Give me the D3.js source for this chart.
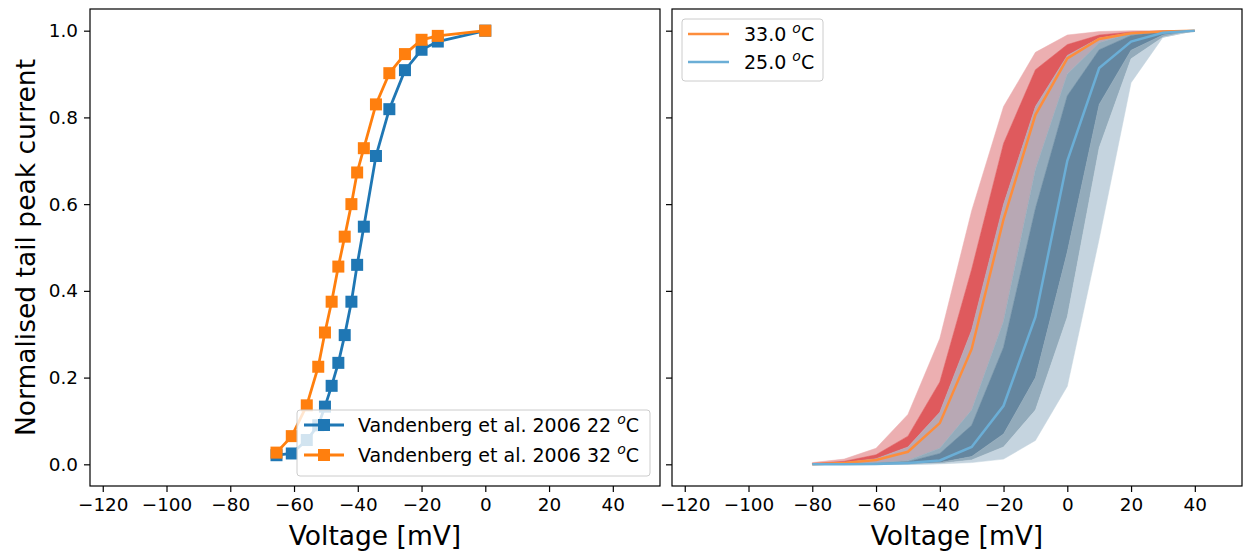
<!DOCTYPE html>
<html><head><meta charset="utf-8">
<script src="https://cdn.jsdelivr.net/npm/d3@7"></script>
<style>body{margin:0;background:#fff} svg{display:block} text{font-family:"DejaVu Sans",sans-serif}</style>
</head><body>
<svg id="c" width="1244" height="554"></svg>
<script>
// ---------- data ----------
const xTicks = [-120, -100, -80, -60, -40, -20, 0, 20, 40];
const yTicks = [0, 0.2, 0.4, 0.6, 0.8, 1.0];

// Left panel: Vandenberg et al. 2006
const vdbVoltage = [-65.5, -60.7, -56, -52.4, -50.3, -48.2, -46.1, -44.1, -42, -40.2, -38.1, -34.3, -30.1, -25.2, -20, -14.9, 0];
const vdb22 = [0.021, 0.025, 0.056, 0.09, 0.133, 0.181, 0.234, 0.298, 0.375, 0.460, 0.548, 0.711, 0.819, 0.909, 0.956, 0.975, 1.0];
const vdb32 = [0.027, 0.065, 0.136, 0.225, 0.304, 0.375, 0.456, 0.525, 0.600, 0.673, 0.729, 0.830, 0.902, 0.946, 0.979, 0.988, 1.0];
const vdbLabels = ["Vandenberg et al. 2006 22 ", "Vandenberg et al. 2006 32 "];

// Right panel: model predictions
const modelVoltage = [-80, -70, -60, -50, -40, -30, -20, -10, 0, 10, 20, 30, 40];
const mean33 = [0, 0.003, 0.01, 0.029, 0.095, 0.266, 0.565, 0.806, 0.936, 0.981, 0.994, 0.998, 1.0];
const mean25 = [0, 0, 0.001, 0.003, 0.009, 0.04, 0.135, 0.34, 0.70, 0.914, 0.975, 0.995, 1.0];
// band boundaries (left to right)
const b33OuterHi = [0.004, 0.012, 0.037, 0.115, 0.29, 0.585, 0.825, 0.95, 0.99, 0.998, 1, 1, 1];
const b33InnerHi = [0.002, 0.007, 0.022, 0.065, 0.19, 0.45, 0.74, 0.91, 0.968, 0.99, 0.997, 0.999, 1];
const b33InnerLo = [0.001, 0.004, 0.013, 0.04, 0.12, 0.31, 0.60, 0.825, 0.943, 0.983, 0.995, 0.998, 1];
const b25OuterHi = [0, 0.001, 0.003, 0.009, 0.037, 0.125, 0.33, 0.68, 0.90, 0.972, 0.994, 0.999, 1];
const b25InnerHi = [0, 0.001, 0.002, 0.006, 0.025, 0.09, 0.27, 0.59, 0.85, 0.956, 0.989, 0.998, 1];
const b25InnerLo = [0, 0, 0, 0.001, 0.004, 0.018, 0.07, 0.2, 0.49, 0.83, 0.955, 0.99, 1];
const b25MidLo = [0, 0, 0, 0, 0.002, 0.01, 0.04, 0.125, 0.34, 0.73, 0.935, 0.985, 1];
const b25OuterLo = [0, 0, 0, 0, 0.001, 0.004, 0.012, 0.055, 0.18, 0.52, 0.88, 0.985, 1];
const modelLabels = ["33.0 ", "25.0 "];

// ---------- layout ----------
const svg = d3.select("#c");
const yTop = 9, yBottom = 486;
const panels = [{x0: 90, x1: 660}, {x0: 672, x1: 1242}];
const xDomain = [-124, 54.8];
const y = d3.scaleLinear().domain([-0.05, 1.05]).range([yBottom, yTop]);
const xs = panels.map(p => d3.scaleLinear().domain(xDomain).range([p.x0, p.x1]));
const fmtX = d => d < 0 ? "\u2212" + Math.abs(d) : String(d);

panels.forEach((p, i) => {
  svg.append("clipPath").attr("id", "clip" + i).append("rect")
    .attr("x", p.x0).attr("y", yTop).attr("width", p.x1 - p.x0).attr("height", yBottom - yTop);
});

function drawAxes(i) {
  const x = xs[i], p = panels[i];
  const gx = svg.append("g").attr("transform", `translate(0,${yBottom})`)
    .call(d3.axisBottom(x).tickValues(xTicks).tickSize(6).tickPadding(6).tickFormat(fmtX));
  const gy = svg.append("g").attr("transform", `translate(${p.x0},0)`)
    .call(d3.axisLeft(y).tickValues(yTicks).tickSize(6).tickPadding(6)
      .tickFormat(i === 0 ? d3.format(".1f") : () => ""));
  [gx, gy].forEach(g => {
    g.select(".domain").remove();
    g.selectAll(".tick line").attr("stroke", "#000").attr("stroke-width", 1.2);
    g.selectAll(".tick text").attr("fill", "#000").style("font-size", "18.4px")
      .style("font-family", "'DejaVu Sans', sans-serif");
  });
  gx.selectAll(".tick text").attr("dy", "0.72em");
  svg.append("rect").attr("x", p.x0).attr("y", yTop).attr("width", p.x1 - p.x0).attr("height", yBottom - yTop)
    .attr("fill", "none").attr("stroke", "#000").attr("stroke-width", 1.2);
  svg.append("text").attr("x", (p.x0 + p.x1) / 2).attr("y", 545).attr("text-anchor", "middle")
    .style("font-size", "26.5px").text("Voltage [mV]");
}

function degText(sel, label) {
  sel.append("tspan").text(label);
  sel.append("tspan").attr("font-style", "italic").style("font-size", "14px").attr("dy", "-7.5").text("o");
  sel.append("tspan").attr("dy", "7.5").text("C");
}

// ---------- left panel ----------
{
  const x = xs[0];
  const g = svg.append("g").attr("clip-path", "url(#clip0)");
  const series = [{v: vdb22, c: "#1f77b4"}, {v: vdb32, c: "#ff7f0e"}];
  series.forEach(s => {
    const pts = vdbVoltage.map((d, k) => [d, s.v[k]]);
    g.append("path").attr("d", d3.line().x(d => x(d[0])).y(d => y(d[1]))(pts))
      .attr("fill", "none").attr("stroke", s.c).attr("stroke-width", 2.8);
    g.selectAll(null).data(pts).enter().append("rect")
      .attr("x", d => x(d[0]) - 6).attr("y", d => y(d[1]) - 6)
      .attr("width", 12).attr("height", 12).attr("fill", s.c);
  });
  drawAxes(0);
  svg.append("text").attr("transform", "translate(35,247.5) rotate(-90)").attr("text-anchor", "middle")
    .style("font-size", "26.5px").text("Normalised tail peak current");
  // legend
  const lg = svg.append("g");
  lg.append("rect").attr("x", 297).attr("y", 410).attr("width", 353).attr("height", 66).attr("rx", 3)
    .attr("fill", "#fff").attr("fill-opacity", 0.8).attr("stroke", "#cccccc").attr("stroke-width", 1);
  series.forEach((s, k) => {
    const cy = 425 + k * 30;
    lg.append("line").attr("x1", 304).attr("x2", 344).attr("y1", cy).attr("y2", cy)
      .attr("stroke", s.c).attr("stroke-width", 2.8);
    lg.append("rect").attr("x", 318).attr("y", cy - 6).attr("width", 12).attr("height", 12).attr("fill", s.c);
    const t = lg.append("text").attr("x", 358).attr("y", cy + 6.8).style("font-size", "19px");
    degText(t, vdbLabels[k]);
  });
}

// ---------- right panel ----------
{
  const x = xs[1];
  const g = svg.append("g").attr("clip-path", "url(#clip1)");
  const bands = [
    {hi: b33OuterHi, lo: b33InnerHi, c: "#ecafb1"},
    {hi: b33InnerHi, lo: b33InnerLo, c: "#df5a5d"},
    {hi: b33InnerLo, lo: b25OuterHi, c: "#b8a8b4"},
    {hi: b25OuterHi, lo: b25InnerHi, c: "#93abbb"},
    {hi: b25InnerHi, lo: b25InnerLo, c: "#65869f"},
    {hi: b25InnerLo, lo: b25MidLo, c: "#93abbb"},
    {hi: b25MidLo, lo: b25OuterLo, c: "#c5d4df"}
  ];
  const area = d3.area().x(d => x(d.v)).y0(d => y(d.lo)).y1(d => y(d.hi));
  bands.forEach(b => {
    const pts = modelVoltage.map((v, k) => ({v, lo: b.lo[k], hi: b.hi[k]}));
    g.append("path").attr("d", area(pts)).attr("fill", b.c).attr("stroke", b.c).attr("stroke-width", 0.5);
  });
  const lines = [{v: mean33, c: "#fd8d3c"}, {v: mean25, c: "#6baed6"}];
  lines.forEach(s => {
    g.append("path").attr("d", d3.line().x((d, k) => x(modelVoltage[k])).y(d => y(d))(s.v))
      .attr("fill", "none").attr("stroke", s.c).attr("stroke-width", 2.5);
  });
  drawAxes(1);
  const lg = svg.append("g");
  lg.append("rect").attr("x", 682).attr("y", 19).attr("width", 141).attr("height", 62).attr("rx", 3)
    .attr("fill", "#fff").attr("fill-opacity", 0.8).attr("stroke", "#cccccc").attr("stroke-width", 1);
  lines.forEach((s, k) => {
    const cy = 34 + k * 28;
    lg.append("line").attr("x1", 688).attr("x2", 729).attr("y1", cy).attr("y2", cy)
      .attr("stroke", s.c).attr("stroke-width", 2.5);
    const t = lg.append("text").attr("x", 744).attr("y", cy + 6.8).style("font-size", "19px");
    degText(t, modelLabels[k]);
  });
}
</script></body></html>
